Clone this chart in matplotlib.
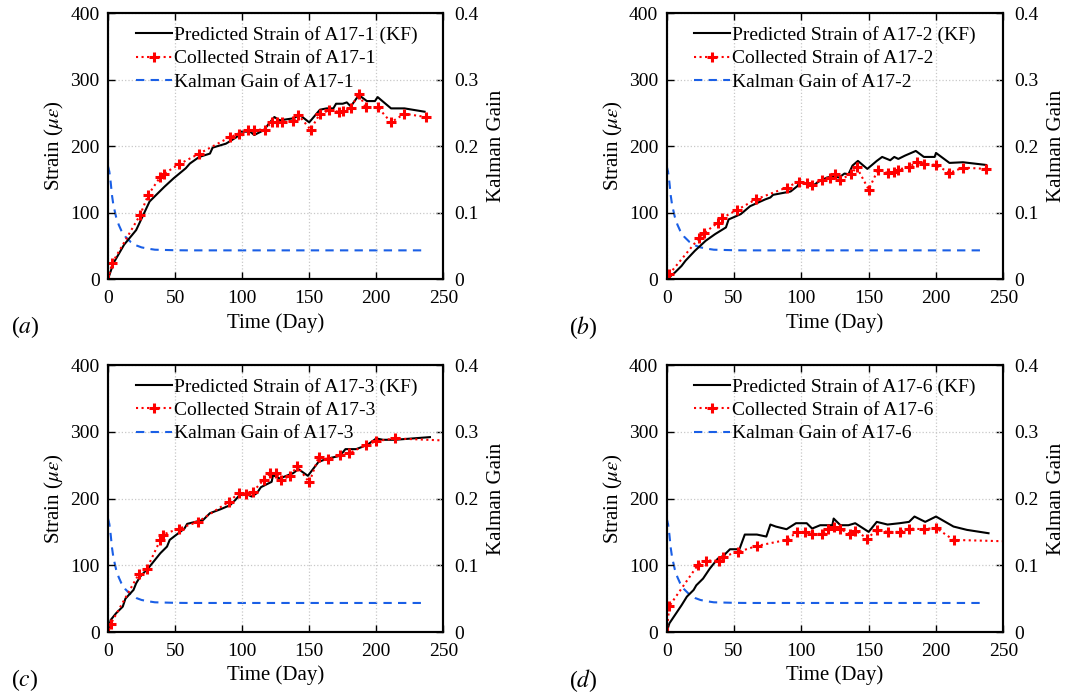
import numpy as np
import matplotlib.pyplot as plt

plt.rcParams['font.family'] = ['Liberation Serif', 'DejaVu Serif']
plt.rcParams['mathtext.fontset'] = 'stix'

# Kalman gain (same for all sensors)
t_gain = [0, 1, 2, 3, 4, 6, 8, 10, 13, 17, 21, 25, 30, 35, 50, 60, 100, 150, 200, 237]
gain = [0.170, 0.162, 0.146, 0.126, 0.112, 0.094, 0.082, 0.073, 0.064, 0.056,
        0.051, 0.048, 0.046, 0.0445, 0.0437, 0.0435, 0.0435, 0.0435, 0.0435, 0.0435]

# A17-1
t_col1 = [0, 3, 24, 30, 39, 42, 53, 68, 91, 98, 104, 109, 117, 122, 126, 130, 138, 142,
          151, 158, 165, 172, 175, 181, 187, 192, 201, 211, 221, 237]
col1 = [0, 24, 97, 127, 154, 159, 173, 189, 214, 219, 224, 225, 225, 236, 237, 237, 238, 247,
        225, 249, 254, 252, 253, 258, 279, 259, 259, 236, 249, 244]
t_pre1 = [0, 4, 12, 21, 31, 42, 49, 58, 61, 68, 76, 78, 88, 96, 98, 106, 109, 116, 124, 128,
          138, 143, 150, 158, 163, 168, 170, 175, 178, 181, 187, 193, 199, 201, 211, 221, 236]
pre1 = [0, 24, 52, 74, 117, 139, 152, 167, 174, 184, 189, 198, 204, 214, 222, 222, 217, 224,
        244, 239, 242, 247, 236, 255, 257, 257, 264, 264, 266, 260, 277, 268, 268, 274, 257, 257, 252]

# A17-2
t_col2 = [0, 2, 24, 28, 38, 41, 52, 66, 89, 98, 104, 108, 115, 121, 125, 129, 137, 141,
          150, 157, 164, 169, 172, 180, 186, 191, 200, 210, 220, 237]
col2 = [0, 8, 62, 70, 85, 92, 104, 120, 138, 147, 145, 142, 150, 153, 159, 150, 158, 169,
        135, 165, 160, 161, 165, 169, 176, 174, 172, 160, 168, 166]
t_pre2 = [0, 6, 11, 14, 21, 29, 36, 44, 46, 55, 62, 73, 77, 79, 92, 97, 99, 104, 108, 113,
          119, 124, 128, 132, 135, 138, 142, 149, 156, 160, 166, 169, 172, 177, 185, 191, 199,
          200, 210, 220, 237]
pre2 = [0, 10, 20, 28, 43, 58, 68, 78, 90, 98, 110, 120, 123, 127, 132, 140, 147, 143, 140,
        147, 153, 155, 153, 159, 158, 171, 178, 166, 178, 184, 179, 184, 181, 186, 193, 184, 184,
        190, 175, 176, 172]

# A17-3
t_col3 = [0, 2, 23, 29, 39, 41, 53, 67, 90, 98, 103, 108, 116, 121, 125, 129, 136, 141,
          150, 157, 164, 173, 180, 192, 200, 214, 250]
col3 = [0, 12, 87, 95, 138, 146, 155, 165, 195, 209, 207, 210, 228, 238, 238, 228, 234, 249,
        224, 262, 259, 265, 268, 280, 286, 290, 287]
t_pre3 = [0, 2, 6, 11, 13, 19, 21, 24, 31, 39, 44, 46, 57, 59, 71, 76, 84, 91, 95, 98, 103,
          107, 111, 114, 122, 123, 128, 138, 142, 149, 157, 164, 173, 177, 185, 193, 200, 205,
          214, 240]
pre3 = [0, 18, 28, 38, 50, 63, 73, 83, 98, 118, 128, 138, 155, 162, 168, 178, 184, 190, 198,
        205, 207, 203, 208, 217, 225, 235, 230, 238, 244, 234, 255, 260, 264, 274, 274, 280,
        290, 288, 288, 292]

# A17-6
t_col6 = [0, 2, 23, 29, 39, 42, 53, 67, 89, 97, 103, 108, 115, 120, 124, 129, 136, 140,
          149, 156, 164, 173, 180, 191, 200, 213, 250]
col6 = [0, 39, 100, 107, 107, 113, 120, 129, 138, 150, 150, 147, 147, 154, 158, 154, 147, 152,
        140, 153, 150, 150, 155, 154, 156, 138, 136]
t_pre6 = [0, 2, 7, 11, 15, 20, 22, 27, 32, 38, 42, 47, 54, 58, 67, 74, 77, 81, 89, 96, 104,
          108, 114, 123, 124, 129, 135, 140, 150, 156, 164, 173, 180, 184, 192, 200, 213, 223, 239]
pre6 = [0, 13, 28, 40, 53, 63, 70, 80, 95, 110, 114, 124, 124, 146, 146, 143, 161, 158, 154,
        163, 163, 155, 160, 160, 170, 160, 160, 163, 150, 165, 161, 163, 165, 173, 165, 173,
        158, 153, 148]

panels = [
    ('A17-1', 'a', t_pre1, pre1, t_col1, col1, False),
    ('A17-2', 'b', t_pre2, pre2, t_col2, col2, False),
    ('A17-3', 'c', t_pre3, pre3, t_col3, col3, True),
    ('A17-6', 'd', t_pre6, pre6, t_col6, col6, True),
]

positions = [
    [0.1014, 0.5964, 0.3149, 0.3844],
    [0.6260, 0.5964, 0.3161, 0.3844],
    [0.1014, 0.0867, 0.3149, 0.3858],
    [0.6260, 0.0867, 0.3161, 0.3858],
]

fig = plt.figure(figsize=(10.65, 6.92), dpi=100)
fs = 14

for (name, tag, tp, yp, tc, yc, edge), pos in zip(panels, positions):
    ax = fig.add_axes(pos)
    ax2 = ax.twinx()
    ax.set_zorder(ax2.get_zorder() + 1)
    ax.patch.set_visible(False)

    l1, = ax.plot(tp, yp, color='black', lw=1.5, label='Predicted Strain of %s (KF)' % name)
    mk = slice(0, len(tc) - 1) if edge else None
    l2, = ax.plot(tc, yc, color='red', lw=1.5, ls=':', marker='+', ms=7, mew=2.2,
                  markevery=mk, label='Collected Strain of %s' % name)
    l3, = ax2.plot(t_gain, gain, color='#1a5fe6', lw=1.5, ls=(0, (4, 3)),
                   label='Kalman Gain of %s' % name)

    ax.set_xlim(0, 250)
    ax.set_ylim(0, 400)
    ax2.set_ylim(0, 0.4)
    ax.set_xticks([0, 50, 100, 150, 200, 250])
    ax.set_yticks([0, 100, 200, 300, 400])
    ax2.set_yticks([0, 0.1, 0.2, 0.3, 0.4])
    ax2.set_yticklabels(['0', '0.1', '0.2', '0.3', '0.4'])
    ax.grid(True, ls=':', color='#c8c8c8', lw=0.9)

    ax.tick_params(direction='in', labelsize=fs, top=True, length=5, width=1)
    ax.tick_params(axis='x', pad=8)
    ax.tick_params(axis='y', pad=6)
    ax2.tick_params(direction='in', labelsize=fs, length=5, width=1, pad=8)
    for a in (ax, ax2):
        for s in a.spines.values():
            s.set_linewidth(1.5)

    ax.set_xlabel('Time (Day)', fontsize=fs + 1, labelpad=4)
    ax.set_ylabel(r'Strain ($\mu\varepsilon$)', fontsize=fs + 1, labelpad=3)
    ax2.set_ylabel('Kalman Gain', fontsize=fs + 1, labelpad=6)

    ax.legend(handles=[l1, l2, l3], loc='upper left', bbox_to_anchor=(0.045, 1.0),
              frameon=False, fontsize=fs, handlelength=1.85, handletextpad=0.1,
              labelspacing=0.3, borderaxespad=0.25)

    ax.text(-0.29, -0.18, r'($\mathit{%s}$)' % tag, transform=ax.transAxes,
            fontsize=fs + 3, va='center')

plt.savefig('out.png', dpi=100)
